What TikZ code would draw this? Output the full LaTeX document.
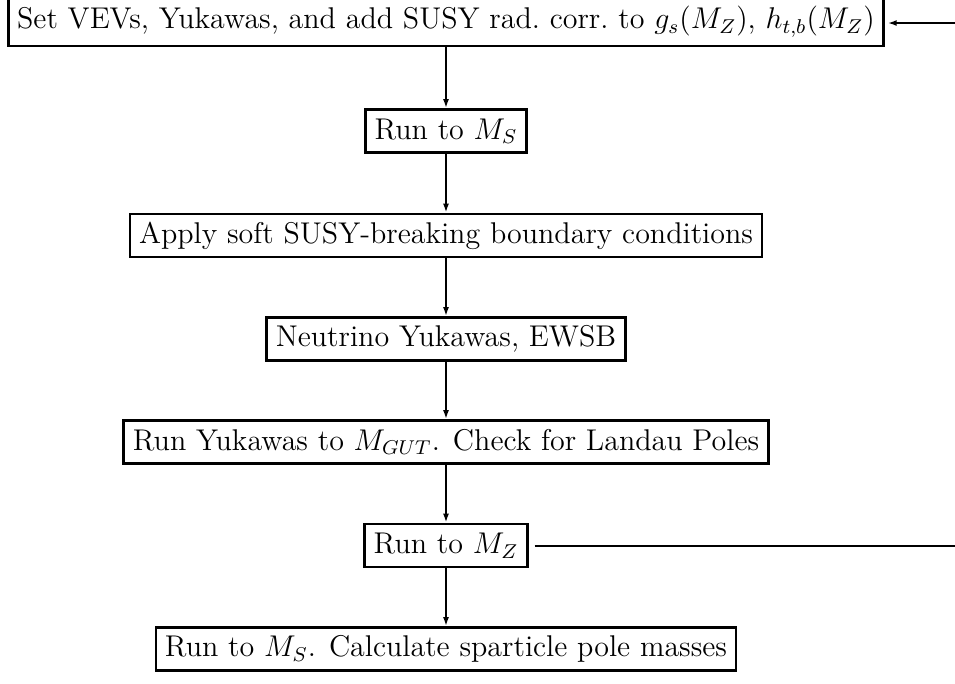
\documentclass[tikz,border=0pt]{standalone}
\usetikzlibrary{arrows.meta}
\begin{document}
\begin{tikzpicture}[x=0.4pt,y=-0.4pt,
  every node/.style={font=\fontsize{12}{14.4}\selectfont},
  box/.style={draw,line width=1.1pt,inner xsep=3.6pt,inner ysep=0pt,minimum height=17.2pt,anchor=center},
  flow/.style={line width=0.8pt,-{Latex[length=3.6pt,width=2.4pt]}},
  link/.style={line width=0.8pt}]
\useasboundingbox (0,0) rectangle (955,683);
\node[box,minimum height=19.6pt] (set) at (446,21.5) {Set VEVs, Yukawas, and add SUSY rad.\ corr.\ to $g_s(M_Z)$, $h_{t,b}(M_Z)$};
\node[box] (ms) at (446,131) {Run to $M_S$};
\node[box] (soft) at (446,235.5) {Apply soft SUSY-breaking boundary conditions};
\node[box] (nu) at (446,339) {Neutrino Yukawas, EWSB};
\node[box] (gut) at (446,442) {Run Yukawas to $M_{GUT}$. Check for Landau Poles};
\node[box] (mz) at (446,545.5) {Run to $M_Z$};
\node[box] (last) at (446,649) {Run to $M_S$. Calculate sparticle pole masses};
\coordinate (fbr) at (955,545.5);
\coordinate (ftr) at (955,23);
\draw[flow] (set) -- (ms);
\draw[flow] (ms) -- (soft);
\draw[flow] (soft) -- (nu);
\draw[flow] (nu) -- (gut);
\draw[flow] (gut) -- (mz);
\draw[flow] (mz) -- (last);
\draw[link] (mz.east) ++(2.4pt,0) -- (fbr);
\draw[flow] (ftr) -- ([xshift=1pt]set.east |- ftr);
\end{tikzpicture}
\end{document}
